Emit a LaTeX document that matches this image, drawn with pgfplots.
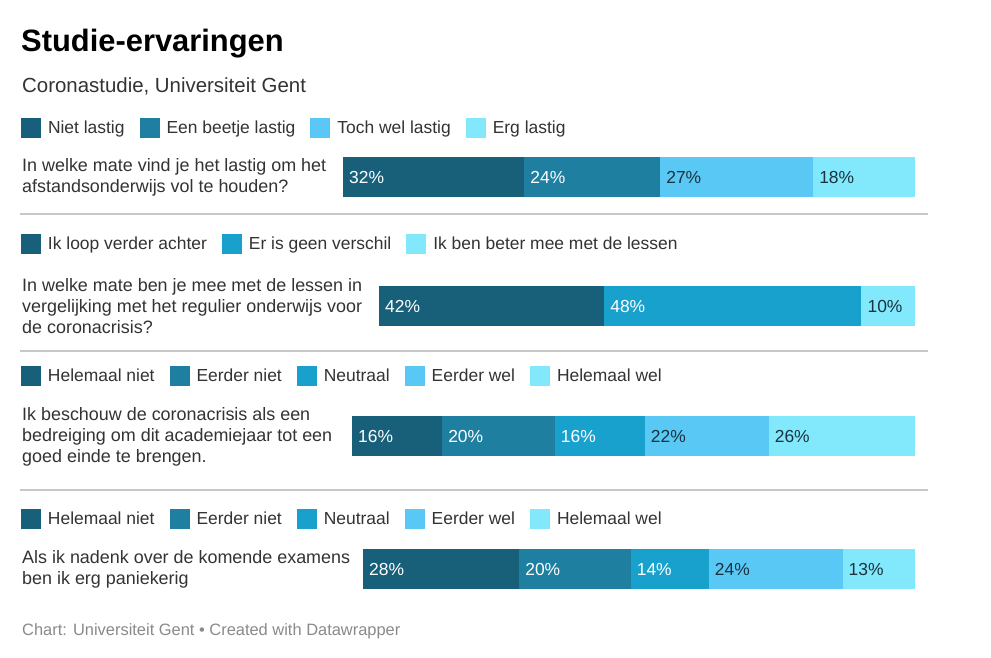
\documentclass[border=0pt]{standalone}
\usepackage{pgfplots}
\pgfplotsset{compat=1.18}
\usepackage{fontspec}
\setmainfont{Liberation Sans}

\definecolor{c1}{HTML}{18607A}
\definecolor{c2}{HTML}{1E7FA0}
\definecolor{c3}{HTML}{18A1CD}
\definecolor{c4}{HTML}{5AC8F5}
\definecolor{c5}{HTML}{82E8FC}
\definecolor{txt}{HTML}{333333}
\definecolor{dk}{HTML}{1B3340}
\definecolor{rule}{HTML}{C8C8C8}
\definecolor{foot}{HTML}{8A8A8A}

\newcommand\qfont{\fontsize{18}{21}\selectfont}
\newcommand\lfont{\fontsize{17.5}{21}\selectfont}

\pgfplotsset{
  sqleg/.style={legend image code/.code={\fill[##1] (0bp,-10bp) rectangle (20bp,10bp);}},
  barax/.style={scale only axis, height=40bp, hide axis, xbar stacked, bar width=1,
    xmin=0, ymin=-0.5, ymax=0.5, anchor=south west,
    legend style={draw=none, fill=none, inner sep=0pt, outer sep=0pt, anchor=west,
      legend columns=-1, font=\lfont, text=txt, cells={anchor=west},
      /tikz/every odd column/.append style={column sep=5bp},
      /tikz/every even column/.append style={column sep=13bp}},
    every axis plot/.append style={draw=none}},
  labax/.style={scale only axis, height=40bp, hide axis, xmin=0, ymin=-0.5, ymax=0.5,
    anchor=south west},
  lab/.style={only marks, mark size=0pt, nodes near coords, point meta=explicit symbolic,
    nodes near coords style={anchor=base west, text=#1, font=\lfont, inner sep=0pt,
      xshift=6bp, yshift=-6.3bp}},
}

\begin{document}
\begin{tikzpicture}
\fill[white] (0bp,0bp) rectangle (991bp,658bp);

% titles
\node[anchor=base west, inner sep=0pt, font=\fontsize{31}{31}\selectfont\bfseries] at (21bp,606bp) {Studie-ervaringen};
\node[anchor=base west, inner sep=0pt, font=\fontsize{20.5}{20.5}\selectfont, text=txt] at (22bp,565bp) {Coronastudie, Universiteit Gent};

% panel 1
\begin{axis}[barax, at={(343bp,460.5bp)}, width=572bp, xmax=101,
  legend style={at={(axis description cs:-0.5629,1.7375)}}]
\addplot[fill=c1, sqleg] coordinates {(32,0)};
\addplot[fill=c2, sqleg] coordinates {(24,0)};
\addplot[fill=c4, sqleg] coordinates {(27,0)};
\addplot[fill=c5, sqleg] coordinates {(18,0)};
\legend{Niet lastig, Een beetje lastig, Toch wel lastig, Erg lastig}
\end{axis}
\begin{axis}[labax, at={(343bp,460.5bp)}, width=572bp, xmax=101]
\addplot[lab=white] coordinates {(0,0) [32\%] (32,0) [24\%]};
\addplot[lab=dk] coordinates {(56,0) [27\%] (83,0) [18\%]};
\end{axis}
\node[anchor=west, align=left, inner sep=0pt, font=\qfont, text=txt] at (22bp,480.5bp)
  {In welke mate vind je het lastig om het\\afstandsonderwijs vol te houden?};

\draw[rule, line width=1.5bp] (20bp,444bp) -- (928bp,444bp);

% panel 2
\begin{axis}[barax, at={(379bp,332bp)}, width=536bp, xmax=100,
  legend style={at={(axis description cs:-0.6679,2.05)}}]
\addplot[fill=c1, sqleg] coordinates {(42,0)};
\addplot[fill=c3, sqleg] coordinates {(48,0)};
\addplot[fill=c5, sqleg] coordinates {(10,0)};
\legend{Ik loop verder achter, Er is geen verschil, Ik ben beter mee met de lessen}
\end{axis}
\begin{axis}[labax, at={(379bp,332bp)}, width=536bp, xmax=100]
\addplot[lab=white] coordinates {(0,0) [42\%] (42,0) [48\%]};
\addplot[lab=dk] coordinates {(90,0) [10\%]};
\end{axis}
\node[anchor=west, align=left, inner sep=0pt, font=\qfont, text=txt] at (22bp,352bp)
  {In welke mate ben je mee met de lessen in\\vergelijking met het regulier onderwijs voor\\de coronacrisis?};

\draw[rule, line width=1.5bp] (20bp,307bp) -- (928bp,307bp);

% panel 3
\begin{axis}[barax, at={(352bp,201.5bp)}, width=563bp, xmax=100,
  legend style={at={(axis description cs:-0.5879,2.0125)}}]
\addplot[fill=c1, sqleg] coordinates {(16,0)};
\addplot[fill=c2, sqleg] coordinates {(20,0)};
\addplot[fill=c3, sqleg] coordinates {(16,0)};
\addplot[fill=c4, sqleg] coordinates {(22,0)};
\addplot[fill=c5, sqleg] coordinates {(26,0)};
\legend{Helemaal niet, Eerder niet, Neutraal, Eerder wel, Helemaal wel}
\end{axis}
\begin{axis}[labax, at={(352bp,201.5bp)}, width=563bp, xmax=100]
\addplot[lab=white] coordinates {(0,0) [16\%] (16,0) [20\%] (36,0) [16\%]};
\addplot[lab=dk] coordinates {(52,0) [22\%] (74,0) [26\%]};
\end{axis}
\node[anchor=west, align=left, inner sep=0pt, font=\qfont, text=txt] at (22bp,221.5bp)
  {Ik beschouw de coronacrisis als een\\bedreiging om dit academiejaar tot een\\goed einde te brengen.};

\draw[rule, line width=1.5bp] (20bp,168bp) -- (928bp,168bp);

% panel 4
\begin{axis}[barax, at={(363bp,69bp)}, width=552bp, xmax=99,
  legend style={at={(axis description cs:-0.6196,1.75)}}]
\addplot[fill=c1, sqleg] coordinates {(28,0)};
\addplot[fill=c2, sqleg] coordinates {(20,0)};
\addplot[fill=c3, sqleg] coordinates {(14,0)};
\addplot[fill=c4, sqleg] coordinates {(24,0)};
\addplot[fill=c5, sqleg] coordinates {(13,0)};
\legend{Helemaal niet, Eerder niet, Neutraal, Eerder wel, Helemaal wel}
\end{axis}
\begin{axis}[labax, at={(363bp,69bp)}, width=552bp, xmax=99]
\addplot[lab=white] coordinates {(0,0) [28\%] (28,0) [20\%] (48,0) [14\%]};
\addplot[lab=dk] coordinates {(62,0) [24\%] (86,0) [13\%]};
\end{axis}
\node[anchor=west, align=left, inner sep=0pt, font=\qfont, text=txt] at (22bp,89bp)
  {Als ik nadenk over de komende examens\\ben ik erg paniekerig};

% footer
\node[anchor=base west, inner sep=0pt, font=\fontsize{16.5}{16.5}\selectfont, text=foot] at (22bp,23bp)
  {Chart: Universiteit Gent \textbullet{} Created with Datawrapper};
\end{tikzpicture}
\end{document}
